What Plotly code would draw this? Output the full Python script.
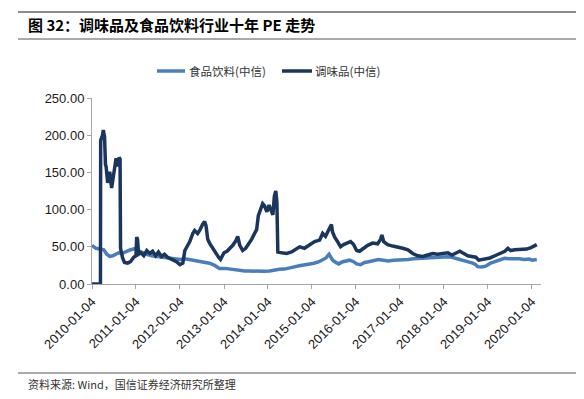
import plotly.graph_objects as go

# ---- data ----
seasoning_dates = [
    "2010-01-04", "2010-03-15", "2010-03-17", "2010-04-01", "2010-04-08", "2010-04-18", "2010-04-26",
    "2010-05-01", "2010-05-14", "2010-05-31", "2010-06-16", "2010-06-28", "2010-07-10", "2010-07-23",
    "2010-08-04", "2010-08-17", "2010-08-25", "2010-08-29", "2010-09-15", "2010-10-01", "2010-10-27",
    "2010-11-20", "2010-12-16", "2011-01-04", "2011-01-10", "2011-01-17", "2011-01-26", "2011-02-14",
    "2011-03-10", "2011-04-04", "2011-04-28", "2011-05-22", "2011-06-16", "2011-07-10", "2011-08-04",
    "2011-08-29", "2011-09-23", "2011-10-18", "2011-11-11", "2011-12-06", "2012-01-04", "2012-01-28",
    "2012-02-14", "2012-03-10", "2012-03-26", "2012-04-20", "2012-05-05", "2012-05-30", "2012-06-16",
    "2012-07-10", "2012-07-27", "2012-08-08", "2012-08-22", "2012-09-06", "2012-10-01", "2012-10-26",
    "2012-11-20", "2012-12-06", "2013-01-04", "2013-01-29", "2013-02-22", "2013-03-18", "2013-04-12",
    "2013-04-28", "2013-05-15", "2013-06-08", "2013-07-03", "2013-07-28", "2013-08-21", "2013-09-15",
    "2013-10-02", "2013-10-16", "2013-11-04", "2013-11-21", "2013-12-07", "2013-12-26", "2014-01-13",
    "2014-01-30", "2014-02-14", "2014-02-26", "2014-03-10", "2014-03-19", "2014-03-27", "2014-04-28",
    "2014-06-08", "2014-07-19", "2014-08-22", "2014-09-24", "2014-11-03", "2014-12-17", "2015-01-26",
    "2015-03-09", "2015-04-03", "2015-04-27", "2015-05-21", "2015-06-15", "2015-06-24", "2015-07-12",
    "2015-08-05", "2015-08-30", "2015-09-24", "2015-10-19", "2015-11-21", "2015-12-16", "2016-01-10",
    "2016-02-04", "2016-03-09", "2016-04-11", "2016-05-22", "2016-07-03", "2016-07-27", "2016-08-07",
    "2016-08-22", "2016-09-24", "2016-11-05", "2016-12-17", "2017-01-27", "2017-03-11", "2017-04-20",
    "2017-05-31", "2017-07-12", "2017-08-22", "2017-10-03", "2017-11-13", "2017-12-25", "2018-02-06",
    "2018-03-11", "2018-04-13", "2018-05-16", "2018-06-18", "2018-07-21", "2018-08-23", "2018-09-26",
    "2018-10-20", "2018-11-14", "2018-12-17", "2019-01-21", "2019-03-03", "2019-04-14", "2019-05-25",
    "2019-06-19", "2019-07-13", "2019-08-15", "2019-09-17", "2019-10-20", "2019-11-22", "2019-12-28",
    "2020-01-21", "2020-02-14",
]
seasoning_pe = [
    0, 0, 193, 200, 207, 198, 160,
    158, 136, 151, 129, 144, 160, 169,
    158, 170, 168, 48, 35, 29, 28,
    30, 36, 38, 63, 60, 40, 42,
    38, 45, 41, 44, 38, 43, 37,
    40, 36, 34, 33, 30, 26, 28,
    45, 52, 57, 68, 72, 68, 72,
    80, 84, 78, 60, 55, 48, 42,
    36, 33, 42, 44, 48, 52, 58,
    64, 52, 45, 48, 54, 60, 68,
    73, 92, 102, 108, 105, 97, 106,
    100, 93, 118, 125, 110, 43, 42,
    41, 43, 46, 50, 48, 53, 57,
    59, 68, 64, 72, 80, 70, 63,
    57, 50, 53, 55, 57, 53, 45,
    44, 48, 52, 55, 54, 60, 66,
    57, 53, 51, 50, 48, 46, 41,
    38, 37, 39, 41, 40, 41, 42,
    39, 41, 44, 41, 38, 37, 36,
    32, 33, 34, 35, 38, 41, 44,
    48, 45, 46, 46, 47, 47, 49,
    51, 53,
]

food_dates = [
    "2010-01-04", "2010-01-20", "2010-02-05", "2010-03-10", "2010-04-12", "2010-05-07", "2010-05-31",
    "2010-06-25", "2010-07-20", "2010-08-13", "2010-09-07", "2010-10-01", "2010-10-27", "2010-11-20",
    "2010-12-16", "2011-01-10", "2011-02-03", "2011-02-28", "2011-04-04", "2011-05-15", "2011-06-25",
    "2011-08-04", "2011-09-14", "2011-10-25", "2011-12-06", "2012-01-04", "2012-02-14", "2012-03-26",
    "2012-05-05", "2012-06-16", "2012-07-27", "2012-09-06", "2012-10-18", "2012-11-27", "2013-01-13",
    "2013-02-22", "2013-04-04", "2013-05-15", "2013-06-25", "2013-08-05", "2013-09-15", "2013-10-27",
    "2013-12-07", "2014-01-17", "2014-02-27", "2014-04-09", "2014-05-20", "2014-06-30", "2014-08-11",
    "2014-09-21", "2014-11-01", "2014-12-12", "2015-01-22", "2015-03-04", "2015-04-07", "2015-05-01",
    "2015-05-26", "2015-06-11", "2015-06-26", "2015-07-21", "2015-08-14", "2015-09-17", "2015-10-12",
    "2015-11-13", "2015-12-16", "2016-01-10", "2016-02-12", "2016-03-16", "2016-04-18", "2016-05-30",
    "2016-07-10", "2016-08-20", "2016-09-30", "2016-11-10", "2016-12-21", "2017-02-01", "2017-03-14",
    "2017-04-24", "2017-06-04", "2017-07-15", "2017-08-25", "2017-10-05", "2017-11-15", "2017-12-26",
    "2018-02-05", "2018-03-11", "2018-04-05", "2018-05-16", "2018-06-26", "2018-07-29", "2018-08-31",
    "2018-09-25", "2018-10-11", "2018-11-13", "2018-12-16", "2019-01-26", "2019-02-28", "2019-03-25",
    "2019-04-27", "2019-05-22", "2019-07-02", "2019-08-12", "2019-09-22", "2019-11-02", "2019-12-13",
    "2020-01-07", "2020-02-14",
]
food_pe = [
    52, 50, 48, 47, 46, 40, 37,
    38, 40, 42, 41, 43, 44, 46,
    47, 48, 44, 42, 40, 38, 37,
    36, 36, 35, 34, 33, 34, 33,
    32, 31, 30, 28, 25, 21, 21,
    20, 18.5, 18, 17.5, 17.5, 17, 16.6,
    17, 17.5, 19, 19.7, 20, 21, 23,
    24.6, 25.5, 26.4, 28, 30, 33, 35,
    40, 36, 32, 29, 27, 30, 31,
    32, 30, 27, 26, 29, 30, 32,
    33, 32, 31, 32, 32, 33, 33,
    34, 34.5, 35, 35.4, 36, 36.7, 37,
    36.7, 36, 34.5, 33, 31, 30, 28,
    26, 23.3, 23, 24, 28, 30, 32,
    33, 34.5, 34, 34.5, 34, 33, 33.5,
    32, 33,
]

tick_dates = ["2010-01-04", "2011-01-04", "2012-01-04", "2013-01-04", "2014-01-04", "2015-01-04",
              "2016-01-04", "2017-01-04", "2018-01-04", "2019-01-04", "2020-01-04"]
y_ticks = [0, 50, 100, 150, 200, 250]

name_food = "食品饮料(中信)"
name_seasoning = "调味品(中信)"
title_text = "图 32：调味品及食品饮料行业十年 PE 走势"
source_text = "资料来源: Wind，国信证券经济研究所整理"

LIGHT = "#4A7EBB"
DARK = "#1B365D"
CJK = "Noto Sans CJK SC"
LAT = "Liberation Sans, Arial"

fig = go.Figure()
fig.add_trace(go.Scatter(x=food_dates, y=food_pe, mode="lines", name=name_food,
                         line=dict(color=LIGHT, width=3.5)))
fig.add_trace(go.Scatter(x=seasoning_dates, y=seasoning_pe, mode="lines", name=name_seasoning,
                         line=dict(color=DARK, width=3.5)))

# the page body adds an 8px offset; design in page coordinates and compensate
OFF = 8
W, H = 584 - OFF, 399 - OFF
PLOT_X0, PLOT_X1, PLOT_Y0, PLOT_Y1 = 92, 541, 98, 284   # page pixels
L, R = PLOT_X0 - OFF, W - (PLOT_X1 - OFF)
T, B = PLOT_Y0 - OFF, H - (PLOT_Y1 - OFF)
pw, ph = W - L - R, H - T - B


def px(xp):
    return (xp - OFF - L) / pw


def py(yp):
    return (H - B - (yp - OFF)) / ph


def hline(x0, x1, y, color, width):
    return dict(type="line", xref="paper", yref="paper", x0=px(x0), x1=px(x1), y0=py(y), y1=py(y),
                line=dict(color=color, width=width))


fig.update_layout(
    width=W, height=H,
    margin=dict(l=L, r=R, t=T, b=B, autoexpand=False),
    paper_bgcolor="white", plot_bgcolor="white",
    showlegend=False,
    xaxis=dict(type="date", range=["2010-01-04", "2020-03-20"], automargin=False,
               tickmode="array", tickvals=tick_dates, ticktext=tick_dates,
               tickangle=-45, tickfont=dict(family=LAT, size=13, color="#1A1A1A"),
               showgrid=False, zeroline=False, showline=True, linecolor="#A6A6A6", linewidth=1,
               ticks="outside", ticklen=4, tickcolor="#A6A6A6"),
    yaxis=dict(range=[0, 250], tickmode="array", tickvals=y_ticks, automargin=False,
               ticktext=[f"{v:.2f}" for v in y_ticks],
               tickfont=dict(family=LAT, size=13, color="#1A1A1A"),
               showgrid=False, zeroline=False, showline=True, linecolor="#A6A6A6", linewidth=1,
               ticks="outside", ticklen=4, tickcolor="#A6A6A6"),
    shapes=[
        hline(18, 580, 12, "#8C8C8C", 2),
        hline(18, 580, 39, "#8C8C8C", 1.5),
        hline(18, 580, 373, "#8C8C8C", 1.5),
        hline(157, 185, 71, LIGHT, 3.5),
        hline(282, 312, 71, DARK, 3.5),
    ],
    annotations=[
        dict(text=title_text, xref="paper", yref="paper", x=px(26), y=py(25),
             xanchor="left", yanchor="middle", showarrow=False,
             font=dict(family=CJK, size=15, color="#000000", weight="bold")),
        dict(text=name_food, xref="paper", yref="paper", x=px(187), y=py(71),
             xanchor="left", yanchor="middle", showarrow=False,
             font=dict(family=CJK, size=11.5, color="#333333")),
        dict(text=name_seasoning, xref="paper", yref="paper", x=px(313), y=py(71),
             xanchor="left", yanchor="middle", showarrow=False,
             font=dict(family=CJK, size=11.5, color="#333333")),
        dict(text=source_text, xref="paper", yref="paper", x=px(26), y=py(384),
             xanchor="left", yanchor="middle", showarrow=False,
             font=dict(family=CJK, size=11, color="#333333")),
    ],
)

fig.write_html("out.html")
